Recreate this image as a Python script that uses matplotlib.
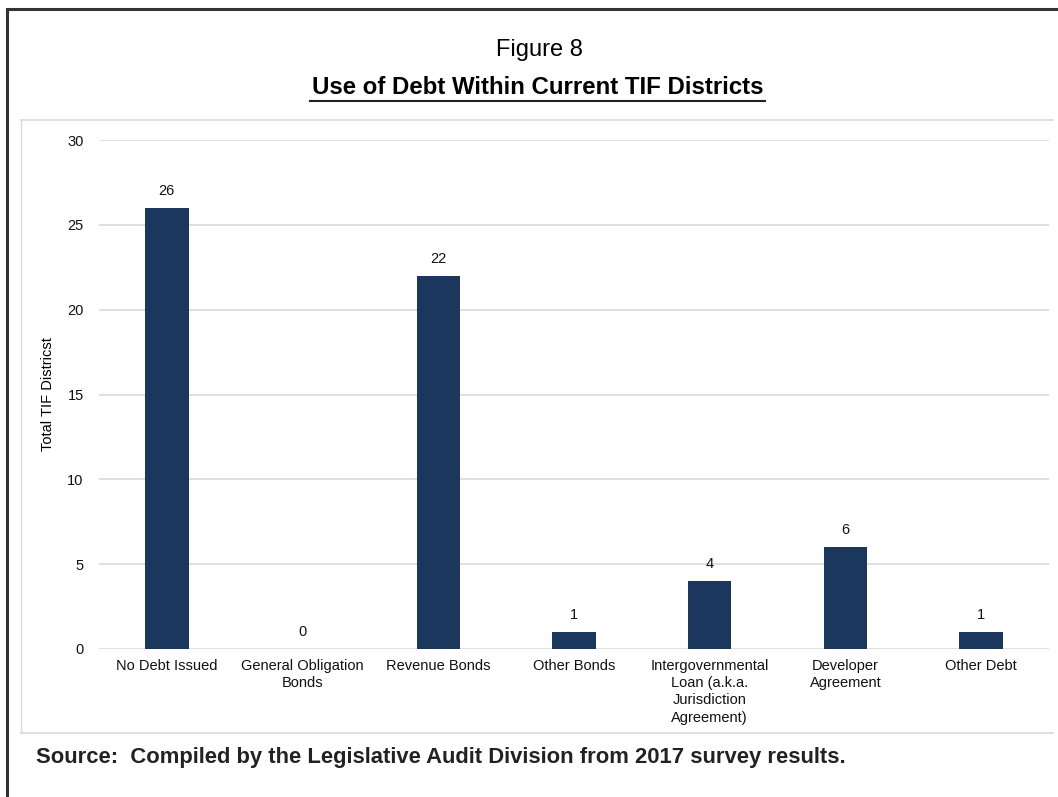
import matplotlib
matplotlib.use("Agg")
from matplotlib import pyplot as plt
from matplotlib.lines import Line2D

# data
categories = ["No Debt Issued", "General Obligation\nBonds", "Revenue Bonds",
              "Other Bonds", "Intergovernmental\nLoan (a.k.a.\nJurisdiction\nAgreement)",
              "Developer\nAgreement", "Other Debt"]
counts = [26, 0, 22, 1, 4, 6, 1]
yticks = [0, 5, 10, 15, 20, 25, 30]

plt.rcParams['font.family'] = ['Liberation Sans', 'DejaVu Sans']
narrow = ['Liberation Sans Narrow', 'Liberation Sans', 'DejaVu Sans']

W, H = 1058, 797
fig = plt.figure(figsize=(W / 100, H / 100), dpi=100)

# outer frame (dark) and inner chart box (light gray)
fig.add_artist(Line2D([7 / W, 7 / W], [0, 1 - 9 / H], color="#333333", lw=2.2))
fig.add_artist(Line2D([7 / W, 1], [1 - 9 / H, 1 - 9 / H], color="#333333", lw=2.2))
box_c = "#d9d9d9"
fig.add_artist(Line2D([21 / W, 1053 / W], [1 - 120 / H, 1 - 120 / H], color=box_c, lw=1.2))
fig.add_artist(Line2D([21 / W, 1053 / W], [1 - 733 / H, 1 - 733 / H], color=box_c, lw=1.2))
fig.add_artist(Line2D([21 / W, 21 / W], [1 - 733 / H, 1 - 120 / H], color=box_c, lw=1.0))

# titles
fig.text(539 / W, 1 - 50 / H, "Figure 8", ha="center", va="center", fontsize=17, family=narrow)
fig.text(538 / W, 1 - 88 / H, "Use of Debt Within Current TIF Districts", ha="center",
         va="center", fontsize=17.3, fontweight="bold", family=narrow)
fig.add_artist(Line2D([310 / W, 765 / W], [1 - 101 / H, 1 - 101 / H], color="#222222", lw=1.5))

ax = fig.add_axes([99 / W, 1 - 649 / H, (1049 - 99) / W, (649 - 140) / H])
x = range(len(categories))
ax.bar(x, counts, width=0.32, color="#1b375d", zorder=3)
for xi, v in zip(x, counts):
    ax.text(xi, v + 0.6, str(v), ha="center", va="bottom", fontsize=10.5, color="#111111")

ax.set_xlim(-0.5, len(categories) - 0.5)
ax.set_ylim(0, 30)
ax.set_yticks(yticks)
ax.yaxis.grid(True, color="#d9d9d9", lw=1.2, zorder=0)
ax.set_xticks(list(x))
ax.set_xticklabels(categories, fontsize=10.5, linespacing=1.3)
ax.tick_params(axis="both", length=0, labelsize=10.5, colors="#111111")
ax.tick_params(axis="y", pad=11)
ax.tick_params(axis="x", pad=7)
for s in ax.spines.values():
    s.set_visible(False)
ax.set_ylabel("Total TIF Districst", fontsize=10.5)
ax.yaxis.set_label_coords((55 - 99) / (1049 - 99), 0.5)

fig.text(36 / W, 1 - 758 / H, "Source:  Compiled by the Legislative Audit Division from 2017 survey results.",
         ha="left", va="center", fontsize=15.8, fontweight="bold", color="#222222", family=narrow)

fig.savefig("out.png", dpi=100)
